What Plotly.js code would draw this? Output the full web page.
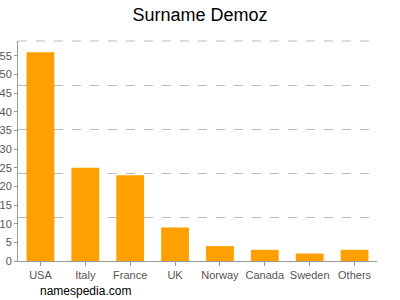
<!DOCTYPE html>
<html><head><meta charset="utf-8">
<script src="https://cdn.plot.ly/plotly-3.0.1.min.js"></script>
<style>html,body{margin:0;padding:0;background:#fff}#chart{width:400px;height:300px}</style>
</head><body><div id="chart"></div>
<script>
const categories = ["USA","Italy","France","UK","Norway","Canada","Sweden","Others"];
const counts = [56, 25, 23, 9, 4, 3, 2, 3];
const yTickVals = [0,5,10,15,20,25,30,35,40,45,50,55];

const data = [{
  type: 'bar', x: categories, y: counts,
  marker: {color: '#ffa000', line: {width: 0}},
  width: 0.62, hoverinfo: 'none'
}, {
  type: 'scatter', x: [], y: [], yaxis: 'y2', showlegend: false
}];

const layout = {
  width: 400, height: 300,
  margin: {l: 18, r: 23, t: 41, b: 39},
  paper_bgcolor: '#fff', plot_bgcolor: '#fff',
  showlegend: false,
  title: {text: 'Surname Demoz', x: 0.5, xanchor: 'center', y: 0.95, yanchor: 'middle',
          font: {family: 'Liberation Sans, Arial, sans-serif', size: 18, color: '#000'}},
  font: {family: 'Liberation Sans, Arial, sans-serif'},
  xaxis: {
    type: 'category', showline: true, linecolor: '#999', linewidth: 1,
    ticks: 'outside', ticklen: 4, tickcolor: '#999',
    tickfont: {size: 11, color: '#555'}, showgrid: false, fixedrange: true
  },
  yaxis: {
    range: [0, 59], tickvals: yTickVals, ticks: 'outside', ticklen: 3, tickcolor: '#999',
    showline: true, linecolor: '#999', linewidth: 1, showgrid: false, zeroline: false,
    tickfont: {size: 11, color: '#555'}, fixedrange: true
  },
  yaxis2: {
    overlaying: 'y', range: [0, 5], tickvals: [1,2,3,4], showgrid: true, gridcolor: '#bbb',
    griddash: 'dash', gridwidth: 1, showticklabels: false, ticks: '', zeroline: false, side: 'right', showline: false
  },
  shapes: [{
    type: 'line', xref: 'paper', yref: 'paper', x0: 0, x1: 1, y0: 1, y1: 1,
    line: {color: '#bbb', width: 1, dash: 'dash'}, layer: 'below'
  }],
  annotations: [{
    text: 'namespedia.com', xref: 'paper', yref: 'paper', x: 0.056, y: -0.136,
    xanchor: 'left', yanchor: 'middle', showarrow: false,
    font: {size: 12, color: '#000', family: 'Liberation Sans, Arial, sans-serif'}
  }]
};
Plotly.newPlot('chart', data, layout, {displayModeBar: false, staticPlot: true});
</script></body></html>
